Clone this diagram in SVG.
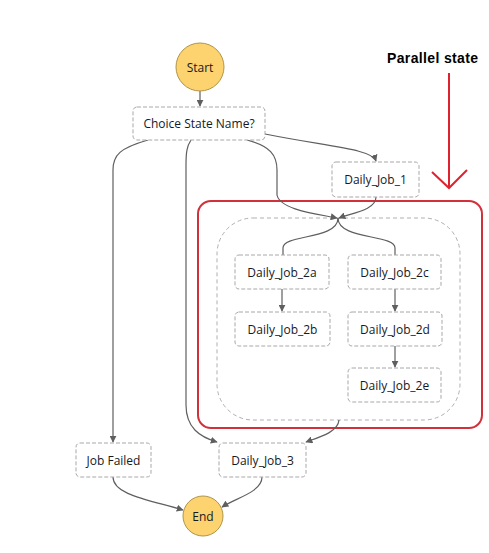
<svg xmlns="http://www.w3.org/2000/svg" width="489" height="553" viewBox="0 0 489 553">
<style>
.node rect{fill:#fff;stroke:#a8a8a8;stroke-width:1;stroke-dasharray:4 2}
.lbl{font-family:"Open Sans","Noto Sans",sans-serif;font-size:12px;fill:#16191f;text-anchor:middle;dominant-baseline:central}
.term circle{fill:#fcd36e;stroke:#b0954a;stroke-width:1}
.conn path{fill:none;stroke:#5f5f5f;stroke-width:1.2}
.conn path.a{marker-end:url(#arr)}
</style>
<defs>
<marker id="arr" viewBox="0 0 10 10" refX="9" refY="5" markerWidth="7" markerHeight="7" markerUnits="userSpaceOnUse" orient="auto">
<path d="M0,0 L10,5 L0,10 z" fill="#5f5f5f"/>
</marker>
</defs>
<rect width="489" height="553" fill="#fff"/>

<g id="parallel-frame">
<rect x="198" y="201" width="284" height="227" rx="13" fill="none" stroke="#d1313b" stroke-width="2"/>
</g>
<g id="parallel-inner">
<rect x="217" y="218" width="243" height="202" rx="36" fill="none" stroke="#b0b0b0" stroke-width="1" stroke-dasharray="4 3"/>
</g>

<g id="connectors" class="conn">
<path class="a" d="M200,91 L200,106"/>
<path class="a" d="M265,134 C330,147 372,149 376,161"/>
<path class="a" d="M247,140 C270,146 277,155 277,170 L277,195 C280,210 318,214 337,218"/>
<path class="a" d="M376,197 C376,210 352,213 339,218"/>
<path d="M338,218 C338,240 283,234 283,248 L283,255"/>
<path d="M338,218 C338,240 395,234 395,248 L395,255"/>
<path class="a" d="M282,289 L282,311"/>
<path class="a" d="M395,289 L395,311"/>
<path class="a" d="M395,346 L395,367"/>
<path class="a" d="M148,140 C120,148 113,155 113,170 L113,442"/>
<path class="a" d="M191,140 C187,146 186,152 186,165 L186,405 C186,428 200,437 217,442"/>
<path class="a" d="M339,420 C338,432 320,437 306,442"/>
<path class="a" d="M113,477 C113,495 150,500 183,510"/>
<path class="a" d="M262,477 C262,492 236,498 222,507"/>
</g>

<g id="start" class="term"><circle cx="200" cy="67" r="24"/><text class="lbl" x="200" y="67">Start</text></g>
<g id="choice" class="node"><rect x="133" y="107" width="132" height="33" rx="4"/><text class="lbl" x="199" y="123.5">Choice State Name?</text></g>
<g id="daily_job_1" class="node"><rect x="332" y="162" width="87" height="35" rx="4"/><text class="lbl" x="375.5" y="179.5">Daily_Job_1</text></g>
<g id="daily_job_2a" class="node"><rect x="235" y="255" width="94" height="34" rx="4"/><text class="lbl" x="282" y="272">Daily_Job_2a</text></g>
<g id="daily_job_2b" class="node"><rect x="235" y="312" width="95" height="34" rx="4"/><text class="lbl" x="282.5" y="329">Daily_Job_2b</text></g>
<g id="daily_job_2c" class="node"><rect x="348" y="255" width="93" height="34" rx="4"/><text class="lbl" x="394.5" y="272">Daily_Job_2c</text></g>
<g id="daily_job_2d" class="node"><rect x="348" y="312" width="94" height="34" rx="4"/><text class="lbl" x="395" y="329">Daily_Job_2d</text></g>
<g id="daily_job_2e" class="node"><rect x="348" y="368" width="93" height="34" rx="4"/><text class="lbl" x="394.5" y="385">Daily_Job_2e</text></g>
<g id="job_failed" class="node"><rect x="76" y="443" width="75" height="34" rx="4"/><text class="lbl" x="113.5" y="460">Job Failed</text></g>
<g id="daily_job_3" class="node"><rect x="219" y="443" width="87" height="34" rx="4"/><text class="lbl" x="262.5" y="460">Daily_Job_3</text></g>
<g id="end" class="term"><circle cx="203" cy="516" r="20"/><text class="lbl" x="203" y="516">End</text></g>

<g id="annotation">
<text x="432.5" y="63" font-family="'Liberation Sans',Arial,sans-serif" font-weight="bold" font-size="14" text-anchor="middle" textLength="91" fill="#000">Parallel state</text>
<path d="M449,73 L449,187 M432,172 L449,188 L467,170" fill="none" stroke="#e0222e" stroke-width="2"/>
</g>
</svg>
